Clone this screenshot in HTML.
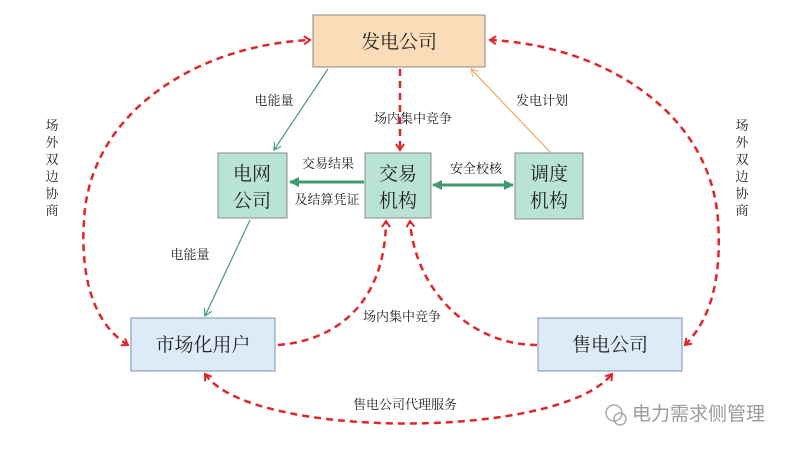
<!DOCTYPE html>
<html><head><meta charset="utf-8"><style>
html,body{margin:0;padding:0;background:#fff;}
svg{display:block;}
text{font-family:"Liberation Serif","Noto Serif CJK SC",serif;fill:#222;}
</style></head><body>
<svg width="800" height="451" viewBox="0 0 800 451" xmlns="http://www.w3.org/2000/svg">
<defs>
<marker id="r" markerWidth="10" markerHeight="10" refX="7" refY="5" orient="auto-start-reverse" markerUnits="userSpaceOnUse"><path d="M1,1 L7,5 L1,9" fill="none" stroke="#e0262a" stroke-width="2"/></marker>
<marker id="g" markerWidth="10" markerHeight="10" refX="8" refY="5" orient="auto" markerUnits="userSpaceOnUse"><path d="M1,1 L8,5 L1,9" fill="none" stroke="#4a9a78" stroke-width="1.2"/></marker>
<marker id="gf" markerWidth="10" markerHeight="10" refX="9" refY="5" orient="auto-start-reverse" markerUnits="userSpaceOnUse"><path d="M0,0 L10,5 L0,10z" fill="#3f9a72"/></marker>
<marker id="o" markerWidth="10" markerHeight="10" refX="8" refY="5" orient="auto" markerUnits="userSpaceOnUse"><path d="M1,1 L8,5 L1,9" fill="none" stroke="#f0b070" stroke-width="1.2"/></marker>
</defs>
<g fill="none" stroke="#e0262a" stroke-width="2.5" stroke-dasharray="7,5">
<path d="M128,345 C95,325 80,280 84,220 C90,110 200,45 310,40" marker-start="url(#r)" marker-end="url(#r)"/>
<path d="M685,345 C710,320 722,280 718,220 C710,110 600,45 490,40" marker-start="url(#r)" marker-end="url(#r)"/>
<path d="M205,374 C250,440 560,440 612,374" marker-start="url(#r)" marker-end="url(#r)"/>
<path d="M278,345 C340,340 385,300 386,221" marker-end="url(#r)"/>
<path d="M537,345 C470,345 415,290 410,221" marker-end="url(#r)"/>
<path d="M400,69 L400,150" marker-end="url(#r)"/>
</g>
<line x1="328" y1="69" x2="274" y2="150" stroke="#4a9a78" stroke-width="1.2" marker-end="url(#g)"/>
<line x1="250" y1="220" x2="205" y2="316" stroke="#4a9a78" stroke-width="1.2" marker-end="url(#g)"/>
<line x1="550" y1="152" x2="471" y2="69" stroke="#f0b070" stroke-width="1.3" marker-end="url(#o)"/>
<line x1="364" y1="182" x2="290" y2="182" stroke="#3f9a72" stroke-width="3" marker-end="url(#gf)"/>
<line x1="433" y1="185" x2="513" y2="185" stroke="#3f9a72" stroke-width="3" marker-start="url(#gf)" marker-end="url(#gf)"/>
<rect x="313" y="15" width="172" height="52" fill="#fbdcb8" stroke="#888"/>
<rect x="218" y="153" width="69" height="65" fill="#b9e4d3" stroke="#888"/>
<rect x="365" y="153" width="66" height="65" fill="#b9e4d3" stroke="#888"/>
<rect x="515" y="153" width="68" height="66" fill="#b9e4d3" stroke="#888"/>
<rect x="131" y="318" width="144" height="53" fill="#dcebf7" stroke="#7a90a8"/>
<rect x="538" y="318" width="144" height="53" fill="#dcebf7" stroke="#7a90a8"/>
<g font-size="19" text-anchor="middle">
<text x="399" y="48">发电公司</text>
<text x="252" y="180">电网</text><text x="252" y="207">公司</text>
<text x="398" y="180">交易</text><text x="398" y="207">机构</text>
<text x="549" y="180">调度</text><text x="549" y="207">机构</text>
<text x="203" y="351">市场化用户</text>
<text x="610" y="351">售电公司</text>
</g>
<g font-size="13" text-anchor="middle">
<text x="274" y="105">电能量</text>
<text x="413" y="123">场内集中竞争</text>
<text x="542" y="105">发电计划</text>
<text x="328" y="168">交易结果</text>
<text x="327" y="204">及结算凭证</text>
<text x="476" y="173">安全校核</text>
<text x="190" y="259">电能量</text>
<text x="402" y="321">场内集中竞争</text>
<text x="405" y="409">售电公司代理服务</text>
</g>
<g font-size="13" text-anchor="middle">
<text x="52" y="130">场</text><text x="52" y="147">外</text><text x="52" y="164">双</text><text x="52" y="181">边</text><text x="52" y="198">协</text><text x="52" y="215">商</text>
<text x="742" y="130">场</text><text x="742" y="147">外</text><text x="742" y="164">双</text><text x="742" y="181">边</text><text x="742" y="198">协</text><text x="742" y="215">商</text>
</g>
<text x="632" y="420" font-size="19" style="fill:#9a9a9a;font-family:'Noto Sans CJK SC',sans-serif">电力需求侧管理</text>
<circle cx="614" cy="413" r="8" fill="none" stroke="#aaa" stroke-width="1.5"/>
<circle cx="620" cy="419" r="6" fill="none" stroke="#aaa" stroke-width="1.5"/>
</svg>
</body></html>
